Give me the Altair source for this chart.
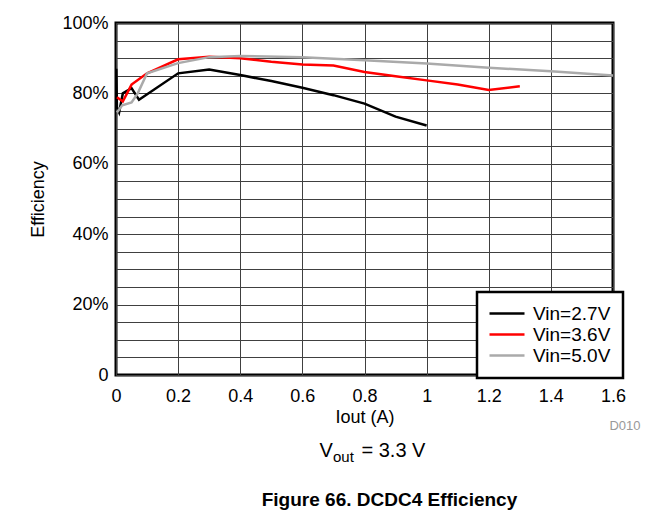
import altair as alt
import pandas as pd

# ---- data ----
iout_27 = [0.001, 0.003, 0.01, 0.022, 0.05, 0.074, 0.2, 0.3, 0.4, 0.5, 0.6, 0.7, 0.8, 0.9, 1.0]
eff_27 = [87.0, 76.0, 74.6, 80.0, 81.5, 78.2, 85.7, 86.8, 85.2, 83.5, 81.6, 79.5, 77.1, 73.4, 70.9]

iout_36 = [0.003, 0.022, 0.05, 0.1, 0.2, 0.3, 0.4, 0.5, 0.6, 0.7, 0.8, 0.9, 1.0, 1.1, 1.2, 1.3]
eff_36 = [78.9, 77.7, 82.5, 85.7, 89.7, 90.4, 90.0, 89.0, 88.2, 87.9, 86.1, 84.9, 83.7, 82.5, 81.0, 82.0]

iout_50 = [0.003, 0.02, 0.05, 0.07, 0.1, 0.2, 0.3, 0.4, 0.6, 0.8, 1.0, 1.2, 1.4, 1.6]
eff_50 = [74.6, 76.6, 77.4, 80.0, 85.7, 88.6, 90.3, 90.6, 90.3, 89.4, 88.5, 87.3, 86.3, 85.1]

series_names = ["Vin=2.7V", "Vin=3.6V", "Vin=5.0V"]
series_colors = ["#000000", "#ff0000", "#aaaaaa"]

x_ticks = [0, 0.2, 0.4, 0.6, 0.8, 1, 1.2, 1.4, 1.6]
y_grid = list(range(0, 101, 5))

frames = []
for name, xs, ys in zip(series_names, [iout_27, iout_36, iout_50], [eff_27, eff_36, eff_50]):
    frames.append(pd.DataFrame({"Iout": xs, "Eff": ys, "Series": name, "idx": range(len(xs))}))
df = pd.concat(frames, ignore_index=True)

FONT = "Liberation Sans"

lines = alt.Chart(df).mark_line(strokeWidth=2.5).encode(
    x=alt.X("Iout:Q",
            scale=alt.Scale(domain=[0, 1.6], nice=False, zero=False),
            axis=alt.Axis(values=x_ticks, format="~g", title="Iout (A)",
                          grid=True, gridColor="#404040", gridWidth=1,
                          ticks=False, domain=False, labelPadding=12,
                          labelFontSize=18, labelColor="#000000",
                          titleFontSize=18, titleFontWeight="normal",
                          titleColor="#000000", titlePadding=3, labelFlush=False)),
    y=alt.Y("Eff:Q",
            scale=alt.Scale(domain=[0, 100], nice=False),
            axis=alt.Axis(values=y_grid,
                          labelExpr="datum.value % 20 == 0 ? (datum.value == 0 ? '0' : datum.value + '%') : ''",
                          title="Efficiency", grid=True, gridColor="#404040", gridWidth=1,
                          ticks=False, domain=False, labelPadding=8,
                          labelFontSize=18, labelColor="#000000",
                          titleFontSize=18, titleFontWeight="normal",
                          titleColor="#000000", titlePadding=14, labelFlush=False)),
    color=alt.Color("Series:N",
                    scale=alt.Scale(domain=series_names, range=series_colors),
                    legend=alt.Legend(title=None, orient="none", legendX=361, legendY=269,
                                      symbolType="M-1.8,0H5.2", symbolSize=100,
                                      symbolStrokeWidth=2.5,
                                      labelFontSize=19, labelColor="#000000", labelOffset=25,
                                      padding=12, rowPadding=1,
                                      fillColor="#ffffff", strokeColor="#000000")),
    order="idx:Q",
)

one = pd.DataFrame({"k": [0]})

top_rule = alt.Chart(one).mark_rule(color="#000000", strokeWidth=1.5).encode(
    x=alt.value(-116), x2=alt.value(547), y=alt.value(-16))

t_V = alt.Chart(one).mark_text(text="V", align="left", baseline="alphabetic",
                               fontSize=20, font=FONT, color="#000000").encode(
    x=alt.value(203.5), y=alt.value(434))
t_out = alt.Chart(one).mark_text(text="out", align="left", baseline="alphabetic",
                                 fontSize=15, font=FONT, color="#000000").encode(
    x=alt.value(217), y=alt.value(439))
t_eq = alt.Chart(one).mark_text(text="= 3.3 V", align="left", baseline="alphabetic",
                                fontSize=20, font=FONT, color="#000000").encode(
    x=alt.value(245.5), y=alt.value(434))
t_d010 = alt.Chart(one).mark_text(text="D010", align="center", baseline="middle",
                                  fontSize=13, font=FONT, color="#999999").encode(
    x=alt.value(509), y=alt.value(403))
t_fig = alt.Chart(one).mark_text(text="Figure 66. DCDC4 Efficiency", align="center",
                                 baseline="alphabetic", fontSize=19, fontWeight="bold",
                                 font=FONT, color="#000000").encode(
    x=alt.value(273.5), y=alt.value(483))

chart = alt.layer(lines, top_rule, t_V, t_out, t_eq, t_d010, t_fig).properties(
    width=497, height=352,
    autosize=alt.AutoSizeParams(type="none"),
    padding={"left": 108, "top": 15, "right": 42, "bottom": 140},
    background="#ffffff",
).configure(font=FONT).configure_view(
    stroke="#000000", strokeWidth=3
).configure_legend(strokeWidth=2.5)

chart.save("out.html", embed_options={"renderer": "svg", "actions": False})
